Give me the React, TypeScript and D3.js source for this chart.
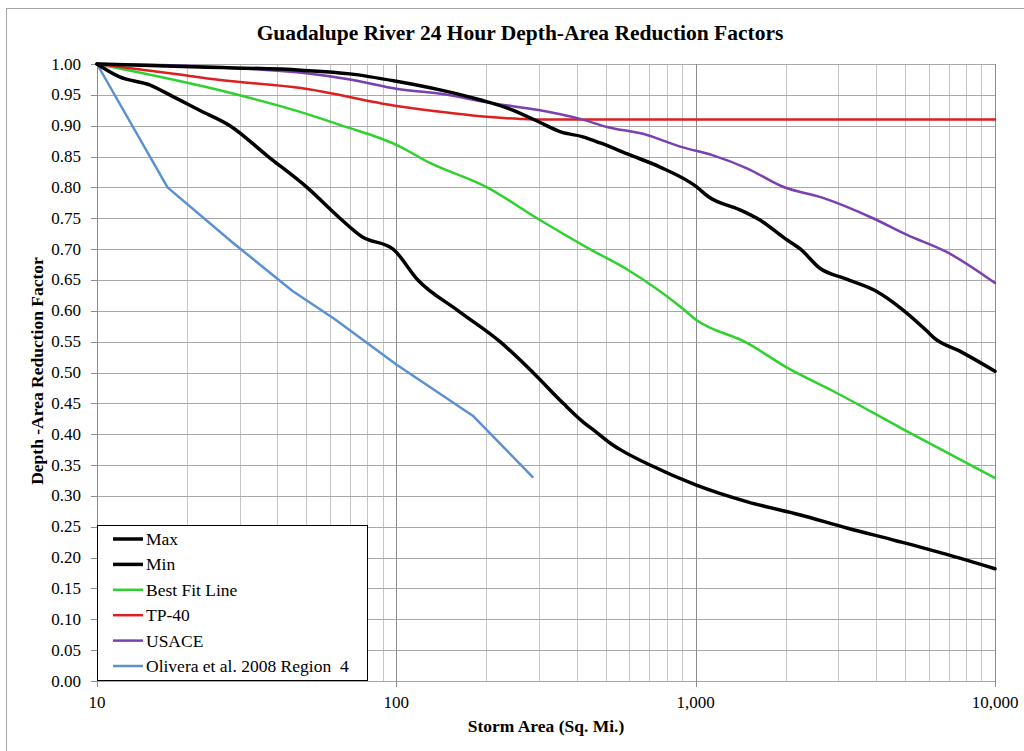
import React from "react";
import * as d3 from "d3";

// Storm area (sq. mi.) and reduction factor for each curve
const maxArea = [10, 22, 48, 70, 100, 140, 190, 240, 300, 354, 420, 480, 600, 760, 1000, 1110, 1400, 1640, 1990, 2240, 2600, 3160, 4000, 4850, 5900, 6300, 7600, 10000];
const maxFactor = [1.0, 0.995, 0.99, 0.984, 0.972, 0.958, 0.942, 0.927, 0.906, 0.89, 0.882, 0.872, 0.853, 0.833, 0.802, 0.784, 0.764, 0.747, 0.717, 0.7, 0.669, 0.652, 0.632, 0.604, 0.568, 0.555, 0.535, 0.502];

const minArea = [10, 11.9, 15, 17.5, 22, 27.8, 37.3, 50.3, 64.8, 76.8, 97.5, 118, 161, 222, 286, 361, 420, 461, 520, 560, 704, 1000, 1500, 2240, 3200, 4700, 6800, 10000];
const minFactor = [1.0, 0.979, 0.966, 0.95, 0.925, 0.9, 0.85, 0.8, 0.75, 0.72, 0.7, 0.65, 0.6, 0.55, 0.5, 0.45, 0.42, 0.405, 0.385, 0.375, 0.35, 0.318, 0.29, 0.269, 0.248, 0.227, 0.206, 0.182];

const fitArea = [10, 28, 48, 70, 88, 100, 129, 201, 295, 443, 600, 887, 1000, 1484, 2019, 2876, 4850, 10000];
const fitFactor = [1.0, 0.953, 0.922, 0.896, 0.88, 0.869, 0.84, 0.8, 0.75, 0.7, 0.665, 0.607, 0.586, 0.548, 0.508, 0.47, 0.41, 0.329];

const tp40Area = [10, 17.5, 25.8, 48, 100, 150, 206, 260, 300, 10000];
const tp40Factor = [1.0, 0.985, 0.974, 0.961, 0.932, 0.921, 0.914, 0.911, 0.91, 0.91];

const usaceArea = [10, 20, 30, 50, 70, 100, 148, 206, 302, 411, 506, 688, 887, 1143, 1484, 1958, 2663, 3912, 5082, 6914, 10000];
const usaceFactor = [1.0, 0.997, 0.993, 0.985, 0.975, 0.96, 0.95, 0.937, 0.925, 0.911, 0.898, 0.885, 0.866, 0.852, 0.831, 0.801, 0.783, 0.75, 0.723, 0.695, 0.645];

const oliveraArea = [10, 17.2, 28.5, 45, 62, 100, 180, 285];
const oliveraFactor = [1.0, 0.8, 0.71, 0.632, 0.587, 0.513, 0.43, 0.331];

const seriesNames = ["Max", "Min", "Best Fit Line", "TP-40", "USACE", "Olivera et al. 2008 Region  4"];
const seriesColors = ["#000000", "#000000", "#2fd12f", "#dc1f1f", "#7a3fb0", "#5b90d2"];
const seriesWidths = [3.5, 3.5, 2.5, 2.5, 2.5, 2.5];
const seriesSmooth = [true, true, true, true, true, false];
const seriesData = [
  [maxArea, maxFactor],
  [minArea, minFactor],
  [fitArea, fitFactor],
  [tp40Area, tp40Factor],
  [usaceArea, usaceFactor],
  [oliveraArea, oliveraFactor],
];

const yTicks = d3.range(0, 21).map((i) => i * 0.05);
const xTicks = [10, 100, 1000, 10000];

const W = 1024;
const H = 751;
const plot = { left: 97, right: 995, top: 64, bottom: 681 };
const serif = "'Liberation Serif', 'Times New Roman', serif";

export default function App() {
  const x = d3.scaleLog().domain([10, 10000]).range([plot.left, plot.right]);
  const y = d3.scaleLinear().domain([0, 1]).range([plot.bottom, plot.top]);

  const minorX: number[] = [];
  for (let dec = 10; dec < 10000; dec *= 10) {
    for (let k = 2; k <= 9; k++) minorX.push(dec * k);
  }

  const makeLine = (smooth: boolean) =>
    d3
      .line<[number, number]>()
      .x((d) => x(d[0]))
      .y((d) => y(d[1]))
      .curve(smooth ? d3.curveMonotoneX : d3.curveLinear);

  const fmt = d3.format(",");

  // draw order: lighter series first, the two black envelopes on top
  const drawOrder = [5, 2, 3, 4, 1, 0];

  const legend = { x: 97, y: 525, w: 270, h: 155 };

  return (
    <svg
      width={W}
      height={H}
      style={{ position: "absolute", left: 0, top: 0, background: "#fff" }}
    >
      <rect x={6.5} y={8.5} width={1040} height={770} fill="#fff" stroke="#a6a6a6" />

      <text
        x={520}
        y={40}
        textAnchor="middle"
        fontFamily={serif}
        fontWeight="bold"
        fontSize={21.5}
        fill="#000"
      >
        Guadalupe River 24 Hour Depth-Area Reduction Factors
      </text>

      {/* minor vertical grid */}
      {minorX.map((v) => (
        <line
          key={"mx" + v}
          x1={Math.round(x(v)) + 0.5}
          x2={Math.round(x(v)) + 0.5}
          y1={plot.top}
          y2={plot.bottom}
          stroke="#c4c4c4"
          strokeWidth={1}
        />
      ))}
      {/* horizontal grid */}
      {yTicks.map((t) => (
        <line
          key={"hy" + t}
          x1={plot.left}
          x2={plot.right}
          y1={Math.round(y(t)) + 0.5}
          y2={Math.round(y(t)) + 0.5}
          stroke="#a8a8a8"
          strokeWidth={1}
        />
      ))}
      {/* major vertical grid */}
      {xTicks.map((v) => (
        <line
          key={"Mx" + v}
          x1={Math.round(x(v)) + 0.5}
          x2={Math.round(x(v)) + 0.5}
          y1={plot.top}
          y2={plot.bottom + 6}
          stroke="#8c8c8c"
          strokeWidth={1}
        />
      ))}
      {/* y tick marks */}
      {yTicks.map((t) => (
        <line
          key={"ty" + t}
          x1={plot.left - 6}
          x2={plot.left}
          y1={Math.round(y(t)) + 0.5}
          y2={Math.round(y(t)) + 0.5}
          stroke="#8c8c8c"
        />
      ))}

      {/* y tick labels */}
      {yTicks.map((t) => (
        <text
          key={"ly" + t}
          x={81}
          y={y(t) + 5.5}
          textAnchor="end"
          fontFamily={serif}
          fontSize={17}
          fill="#000"
        >
          {t.toFixed(2)}
        </text>
      ))}
      {/* x tick labels */}
      {xTicks.map((v) => (
        <text
          key={"lx" + v}
          x={x(v)}
          y={708}
          textAnchor="middle"
          fontFamily={serif}
          fontSize={17}
          fill="#000"
        >
          {fmt(v)}
        </text>
      ))}

      <text
        x={546}
        y={732}
        textAnchor="middle"
        fontFamily={serif}
        fontWeight="bold"
        fontSize={17.5}
        fill="#000"
      >
        Storm Area (Sq. Mi.)
      </text>
      <text
        transform={`translate(43, 371) rotate(-90)`}
        textAnchor="middle"
        fontFamily={serif}
        fontWeight="bold"
        fontSize={17.5}
        fill="#000"
      >
        Depth -Area Reduction Factor
      </text>

      {/* series */}
      {drawOrder.map((i) => {
        const [xs, ys] = seriesData[i];
        const pts = xs.map((v, j) => [v, ys[j]] as [number, number]);
        return (
          <path
            key={"s" + i}
            d={makeLine(seriesSmooth[i])(pts) || ""}
            fill="none"
            stroke={seriesColors[i]}
            strokeWidth={seriesWidths[i]}
            strokeLinejoin="round"
            strokeLinecap="round"
          />
        );
      })}

      {/* legend */}
      <rect
        x={legend.x + 0.5}
        y={legend.y + 0.5}
        width={legend.w}
        height={legend.h}
        fill="#fff"
        stroke="#000"
        strokeWidth={1}
      />
      {seriesNames.map((name, i) => {
        const cy = 539 + i * 25.4;
        return (
          <g key={"lg" + i}>
            <line
              x1={113}
              x2={143}
              y1={cy}
              y2={cy}
              stroke={seriesColors[i]}
              strokeWidth={i < 2 ? 3.5 : 2.5}
            />
            <text
              x={146}
              y={cy + 6}
              fontFamily={serif}
              fontSize={17.5}
              fill="#000"
              style={{ whiteSpace: "pre" }}
            >
              {name}
            </text>
          </g>
        );
      })}
    </svg>
  );
}
